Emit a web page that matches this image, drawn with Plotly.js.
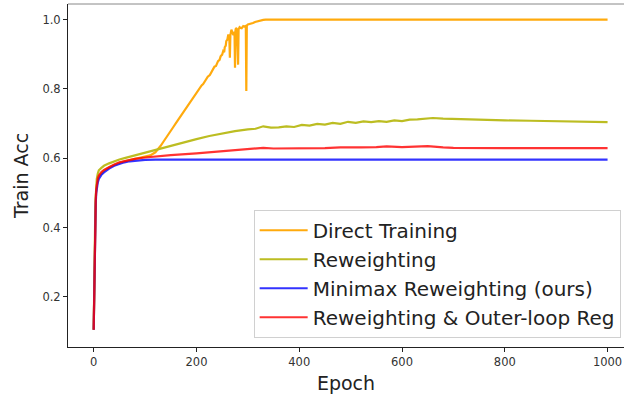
<!DOCTYPE html>
<html>
<head>
<meta charset="utf-8">
<script src="https://cdn.plot.ly/plotly-3.0.1.min.js"></script>
<style>html,body{margin:0;padding:0;background:#fff;}#chart{width:624px;height:396px;}</style>
</head>
<body>
<div id="chart"></div>
<script>
// ---- Data ----
const seriesNames = ["Direct Training", "Reweighting", "Minimax Reweighting (ours)", "Reweighting & Outer-loop Reg"];

const directEpochs = [0,1,2,3,4,5,6,8,10,15,20,30,40,50,60,80,100,110,120,125,130,135,140,145,150,155,160,165,170,175,180,185,190,195,200,205,210,213,216,219,222,226,229,232,235,238,242,245,247,250,252,254,255,257,258,260,262,264,265,266,268,270,272,274,275,276,277,279,281,282,284,286,288,290,291,293,294,296,297,298,300,303,305,310,314,318,322,326,330,335,340,400,500,600,700,800,900,1000];
const directAcc = [0.105,0.25,0.35,0.43,0.48,0.51,0.525,0.54,0.548,0.557,0.564,0.574,0.581,0.587,0.591,0.598,0.604,0.608,0.617,0.625,0.635,0.646,0.658,0.669,0.68,0.69,0.701,0.712,0.723,0.735,0.746,0.756,0.768,0.778,0.79,0.799,0.81,0.814,0.822,0.826,0.835,0.84,0.848,0.852,0.864,0.866,0.88,0.884,0.894,0.899,0.909,0.906,0.92,0.925,0.938,0.942,0.957,0.946,0.89,0.955,0.971,0.962,0.955,0.965,0.861,0.97,0.976,0.972,0.87,0.972,0.978,0.976,0.975,0.979,0.981,0.98,0.98,0.982,0.794,0.983,0.986,0.987,0.988,0.99,0.993,0.995,0.996,0.998,0.999,1.0,1.0,1.0,1.0,1.0,1.0,1.0,1.0,1.0];

const reweightEpochs = [0,1,2,3,4,5,6,8,10,15,20,30,40,50,60,80,100,125,150,175,200,225,250,275,300,315,330,345,360,375,390,405,420,435,450,465,480,495,510,525,540,555,570,585,600,615,630,645,660,680,700,750,800,850,900,950,1000];
const reweightAcc = [0.105,0.26,0.36,0.44,0.49,0.52,0.54,0.556,0.565,0.572,0.578,0.585,0.591,0.596,0.6,0.608,0.616,0.627,0.637,0.646,0.655,0.664,0.672,0.678,0.683,0.685,0.692,0.688,0.689,0.692,0.69,0.696,0.694,0.699,0.697,0.702,0.699,0.705,0.702,0.706,0.704,0.707,0.705,0.709,0.707,0.711,0.712,0.713,0.716,0.714,0.713,0.711,0.709,0.708,0.706,0.705,0.704];

const minimaxEpochs = [0,1,2,3,4,5,6,8,10,12,15,20,25,30,40,50,60,70,80,90,100,120,150,200,300,400,500,600,700,800,900,1000];
const minimaxAcc = [0.105,0.24,0.34,0.42,0.47,0.5,0.515,0.53,0.54,0.546,0.552,0.559,0.565,0.57,0.578,0.584,0.588,0.591,0.593,0.594,0.595,0.596,0.596,0.596,0.596,0.596,0.596,0.596,0.596,0.596,0.596,0.596];

const outerEpochs = [0,1,2,3,4,5,6,8,10,15,20,30,40,50,60,80,100,120,150,200,250,300,330,350,400,450,480,500,520,550,570,600,630,650,680,700,800,900,1000];
const outerAcc = [0.105,0.25,0.35,0.43,0.48,0.51,0.527,0.542,0.55,0.56,0.566,0.575,0.582,0.588,0.592,0.598,0.602,0.605,0.609,0.614,0.62,0.626,0.63,0.628,0.628,0.629,0.631,0.63,0.631,0.632,0.634,0.632,0.634,0.635,0.631,0.63,0.629,0.629,0.629];

const xTickVals = [0,200,400,600,800,1000];
const yTickVals = [0.2,0.4,0.6,0.8,1.0];
const yTickText = ["0.2","0.4","0.6","0.8","1.0"];

// ---- Traces ----
const colors = ["rgba(255,165,0,0.95)", "#bcbd22", "rgba(0,0,255,0.8)", "rgba(255,0,0,0.8)"];
const xs = [directEpochs, reweightEpochs, minimaxEpochs, outerEpochs];
const ys = [directAcc, reweightAcc, minimaxAcc, outerAcc];
const traces = seriesNames.map((n, i) => ({
  type: "scatter", mode: "lines", name: n,
  x: xs[i], y: ys[i],
  line: {color: colors[i], width: 2.2}
}));

const font = "DejaVu Sans, Liberation Sans, sans-serif";
const layout = {
  width: 624, height: 396,
  margin: {l: 68, r: 0, t: 4, b: 49, pad: 0},
  paper_bgcolor: "#fff", plot_bgcolor: "#fff",
  font: {family: font, color: "#222"},
  showlegend: true,
  legend: {
    x: 0.994, y: 0.027, xanchor: "right", yanchor: "bottom",
    bgcolor: "rgba(255,255,255,0.85)", bordercolor: "#d0d0d0", borderwidth: 1,
    font: {family: font, size: 20, color: "#222"},
    itemwidth: 48,
    tracegroupgap: 0
  },
  xaxis: {
    range: [-50, 1032], tickvals: xTickVals, ticks: "outside", ticklen: 4, tickcolor: "#222",
    showline: true, linecolor: "#222", linewidth: 1, showgrid: false, zeroline: false,
    tickfont: {size: 11.5, family: font, color: "#333"},
    title: {text: "Epoch", font: {size: 19, family: font, color: "#222"}, standoff: 8},
    automargin: false
  },
  yaxis: {
    range: [0.055, 1.045], tickvals: yTickVals, ticktext: yTickText, ticks: "outside", ticklen: 4, tickcolor: "#222",
    showline: true, linecolor: "#222", linewidth: 1, showgrid: false, zeroline: false,
    tickfont: {size: 11.5, family: font, color: "#333"},
    title: {text: "Train Acc", font: {size: 19, family: font, color: "#222"}, standoff: 8},
    automargin: false
  },
  shapes: [{type: "line", xref: "paper", yref: "paper", x0: 0, x1: 1, y0: 1, y1: 1, line: {color: "#888", width: 1}}]
};

Plotly.newPlot("chart", traces, layout, {staticPlot: true, displayModeBar: false});
</script>
</body>
</html>
